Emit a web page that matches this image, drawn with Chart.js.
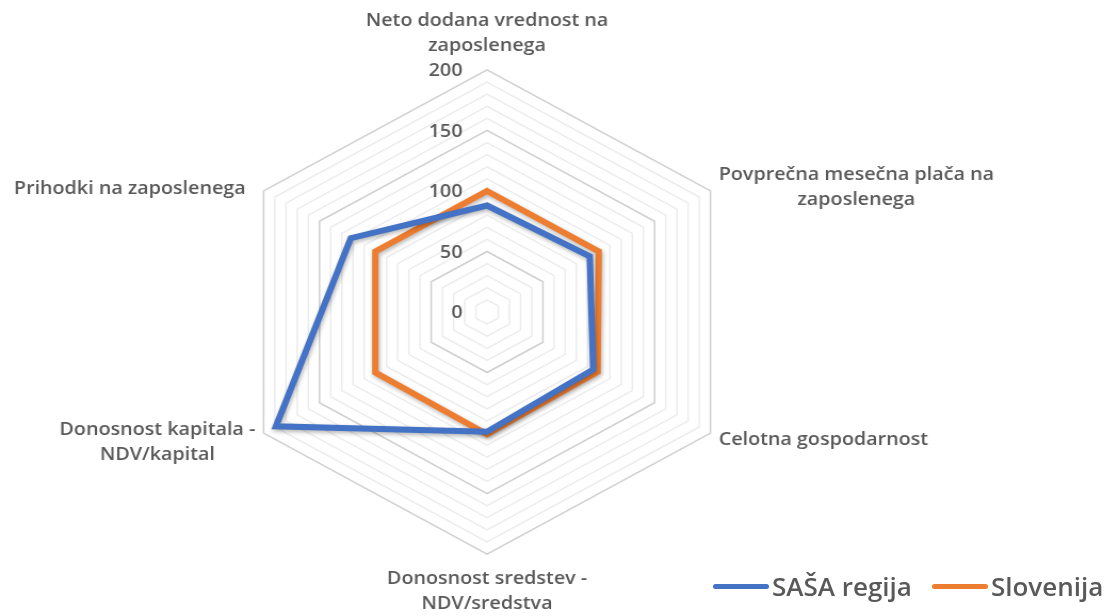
<!DOCTYPE html>
<html lang="sl">
<head>
  <meta charset="UTF-8">
  <title>SAŠA regija : Slovenija</title>
  <script src="https://cdn.jsdelivr.net/npm/chart.js@4.4.1/dist/chart.umd.min.js"></script>
  <style>
    html, body { margin: 0; padding: 0; background: #fff; }
    #wrap { position: relative; width: 1119px; height: 616px; overflow: hidden; }
    #legend { position: absolute; left: 713px; top: 568px; display: flex; gap: 20px;
      font-family: "Open Sans", sans-serif; font-weight: 600; font-size: 26px; color: #595959; }
    #legend span.item { display: flex; align-items: center; }
    #legend span.line { display: inline-block; width: 56px; height: 5px; border-radius: 3px; margin-right: 3px; }
  </style>
</head>
<body>
  <div id="wrap">
    <!-- drawn 1050 wide, shown 1119 wide: the source picture is stretched sideways -->
    <canvas id="radar" width="1050" height="616" style="width:1119px;height:616px"></canvas>
    <div id="legend"></div>
  </div>
  <script>
    const categories = [
      ['Neto dodana vrednost na', 'zaposlenega'],
      ['Povprečna mesečna plača na', 'zaposlenega'],
      'Celotna gospodarnost',
      ['Donosnost sredstev -', 'NDV/sredstva'],
      ['Donosnost kapitala -', 'NDV/kapital'],
      'Prihodki na zaposlenega'
    ];
    const sasa = [88, 92, 95, 99, 189, 122];
    const slovenija = [100, 100, 99, 101, 100, 100];
    const tickLabels = [0, 50, 100, 150, 200];

    const textGrey = '#595959';

    // Excel-like label placement: side labels centred on their lines and pulled toward the vertex height
    const labelNudge = [[0, -3], [0, 26], [0, -10], [0, 3], [0, -20], [-9, 15]];
    const labelPlugin = {
      id: 'labelNudge',
      afterLayout(chart) {
        const items = chart.scales.r._pointLabelItems || [];
        items.forEach((it, i) => {
          const [dx, dy] = labelNudge[i] || [0, 0];
          if (it.textAlign !== 'center') {
            it.x = (it.left + it.right) / 2;
            it.textAlign = 'center';
          }
          it.x += dx; it.left += dx; it.right += dx;
          it.y += dy; it.top += dy; it.bottom += dy;
        });
      }
    };

    // soft drop shadow under the series lines
    const shadowPlugin = {
      id: 'lineShadow',
      beforeDatasetsDraw(chart) {
        const ctx = chart.ctx;
        ctx.save();
        ctx.shadowColor = 'rgba(0,0,0,0.3)';
        ctx.shadowBlur = 4;
        ctx.shadowOffsetX = 1;
        ctx.shadowOffsetY = 2;
      },
      afterDatasetsDraw(chart) {
        chart.ctx.restore();
      }
    };

    // tick numbers sit left of the vertical axis, right aligned
    const tickPlugin = {
      id: 'leftTicks',
      afterDatasetsDraw(chart) {
        const s = chart.scales.r, ctx = chart.ctx;
        ctx.save();
        ctx.font = '600 18.5px "Open Sans"';
        ctx.fillStyle = textGrey;
        ctx.textAlign = 'right';
        ctx.textBaseline = 'middle';
        tickLabels.forEach(v => {
          const p = s.getPointPositionForValue(0, v);
          ctx.fillText(String(v), s.xCenter - 23, p.y + 1);
        });
        ctx.restore();
      }
    };

    const chart = new Chart(document.getElementById('radar'), {
      type: 'radar',
      data: {
        labels: categories,
        datasets: [
          { label: 'SAŠA regija', data: sasa, borderColor: '#4472C4', backgroundColor: 'rgba(0,0,0,0)',
            borderWidth: 6, pointRadius: 0, borderJoinStyle: 'miter' },
          { label: 'Slovenija', data: slovenija, borderColor: '#ED7D31', backgroundColor: 'rgba(0,0,0,0)',
            borderWidth: 6, pointRadius: 0, borderJoinStyle: 'miter' }
        ]
      },
      options: {
        responsive: false,
        animation: false,
        layout: { padding: { left: 0, right: 88, top: 12, bottom: 2 } },
        plugins: { legend: { display: false }, tooltip: { enabled: false } },
        scales: {
          r: {
            min: 0, max: 200,
            ticks: { stepSize: 10, display: false },
            angleLines: { display: false },
            grid: {
              lineWidth: 1.5,
              color: ctx => (ctx.tick && ctx.tick.value % 50 === 0) ? '#cfcfcf' : '#ececec'
            },
            pointLabels: {
              padding: 9,
              color: textGrey,
              font: { family: 'Open Sans', weight: '600', size: 18.5, lineHeight: 1.35 }
            }
          }
        }
      },
      plugins: [labelPlugin, shadowPlugin, tickPlugin]
    });

    const legend = document.getElementById('legend');
    chart.data.datasets.forEach(ds => {
      const item = document.createElement('span');
      item.className = 'item';
      item.innerHTML = '<span class="line" style="background:' + ds.borderColor + '"></span>' + ds.label;
      legend.appendChild(item);
    });
  </script>
</body>
</html>
